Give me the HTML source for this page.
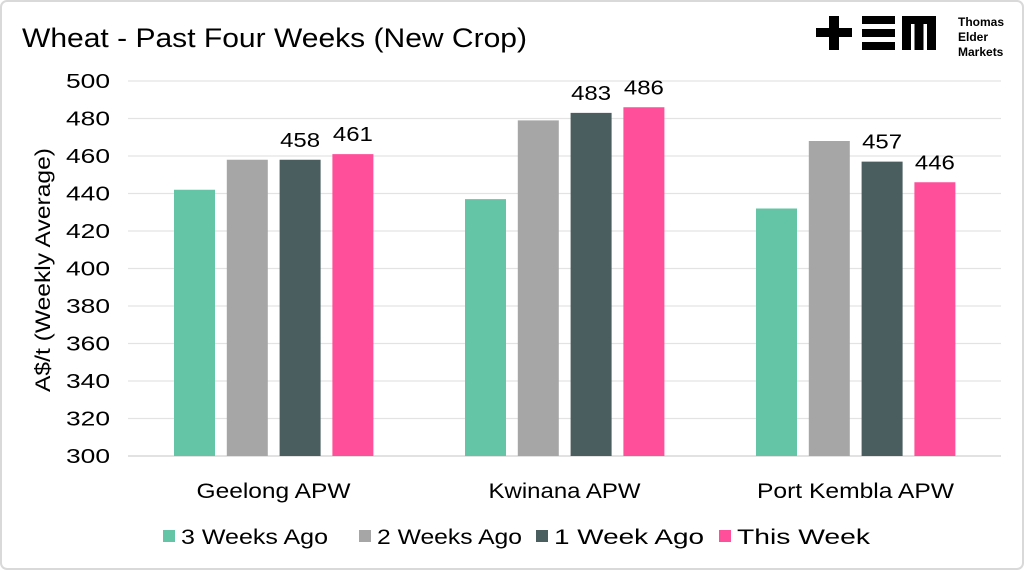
<!DOCTYPE html>
<html><head><meta charset="utf-8"><style>
body{margin:0;background:#fff}
svg{display:block;font-family:"Liberation Sans",sans-serif}
</style></head><body>
<svg id="c" width="1024" height="570">
<rect x="1" y="1" width="1022" height="568" rx="6" fill="#fff" stroke="#d9d9d9" stroke-width="2"/>
<text x="22" y="47" font-size="27" textLength="505" lengthAdjust="spacingAndGlyphs" fill="#000">Wheat - Past Four Weeks (New Crop)</text>
<g>
<rect x="816" y="28" width="36" height="9" fill="#000"/><rect x="829" y="16" width="10" height="34" fill="#000"/>
<rect x="862" y="16" width="33" height="8" fill="#000"/><rect x="862" y="29" width="33" height="8" fill="#000"/><rect x="862" y="42" width="33" height="8" fill="#000"/>
<rect x="902" y="16" width="34" height="8" fill="#000"/><rect x="902" y="16" width="9" height="34" fill="#000"/><rect x="914.5" y="16" width="9" height="34" fill="#000"/><rect x="927" y="16" width="9" height="34" fill="#000"/>
<text x="958" y="26" font-size="12" font-weight="bold">Thomas</text>
<text x="958" y="41" font-size="12" font-weight="bold">Elder</text>
<text x="958" y="56" font-size="12" font-weight="bold">Markets</text>
</g>
<g id="grid"></g><g id="bars"></g><g id="labels"></g>
<text transform="translate(50,270) rotate(-90)" text-anchor="middle" font-size="21" textLength="244" lengthAdjust="spacingAndGlyphs">A$/t (Weekly Average)</text>
<g id="legend"></g>
</svg>
<script>
const categories=["Geelong APW","Kwinana APW","Port Kembla APW"];
const seriesNames=["3 Weeks Ago","2 Weeks Ago","1 Week Ago","This Week"];
const s3w=[442,437,432];
const s2w=[458,479,468];
const s1w=[458,483,457];
const sNow=[461,486,446];
const yTicks=[300,320,340,360,380,400,420,440,460,480,500];
const shownLabels=[[false,false,true,true],[false,false,true,true],[false,false,true,true]];
const colors=["#63c5a5","#a6a6a6","#4a5e5f","#ff4f9a"];
const series=[s3w,s2w,s1w,sNow];
const NS="http://www.w3.org/2000/svg";
const y=v=>456-(v-300)*375/200;
const x0=128,gw=291;
const bx=(g,s)=>x0+gw*g+46+s*52.8;
function mk(t,a,p){const e=document.createElementNS(NS,t);for(const k in a)e.setAttribute(k,a[k]);p.appendChild(e);return e;}
const grid=document.getElementById('grid'),bars=document.getElementById('bars'),labels=document.getElementById('labels'),legend=document.getElementById('legend');
yTicks.forEach(t=>{
 const l=mk('line',{x1:128,x2:1001,y1:y(t),y2:y(t),stroke:t===300?'#d0d0d0':'#e3e3e3','stroke-width':1.3},grid);
 
 
 const tx=mk('text',{x:110,y:y(t)+7,'text-anchor':'end','font-size':20,textLength:44,lengthAdjust:'spacingAndGlyphs'},grid);tx.textContent=t;
 
 
});
const catLen=[154,152,197];
categories.forEach((c,g)=>{
 const tx=mk('text',{x:x0+gw*g+gw/2,y:498,'text-anchor':'middle','font-size':21,textLength:catLen[g],lengthAdjust:'spacingAndGlyphs'},labels);tx.textContent=c;
 
 
 series.forEach((arr,s)=>{
  const v=arr[g];
  const r=mk('rect',{x:bx(g,s),y:y(v),width:41,height:y(300)-y(v),fill:colors[s]},bars);
  
  
  if(shownLabels[g][s]){
   const lt=mk('text',{x:bx(g,s)+20.5,y:y(v)-13,'text-anchor':'middle','font-size':20,textLength:40,lengthAdjust:'spacingAndGlyphs'},labels);lt.textContent=v;
   
   
  }
 });
});
const lx=[163,359,536,719];
const legLen=[147,145,150,133];
seriesNames.forEach((n,i)=>{
 const r=mk('rect',{x:lx[i],y:530,width:12,height:12,fill:colors[i]},legend);
 
 
 const t=mk('text',{x:lx[i]+18,y:544,'font-size':21,textLength:legLen[i],lengthAdjust:'spacingAndGlyphs'},legend);t.textContent=n;
 
 
});
</script>
</body></html>
